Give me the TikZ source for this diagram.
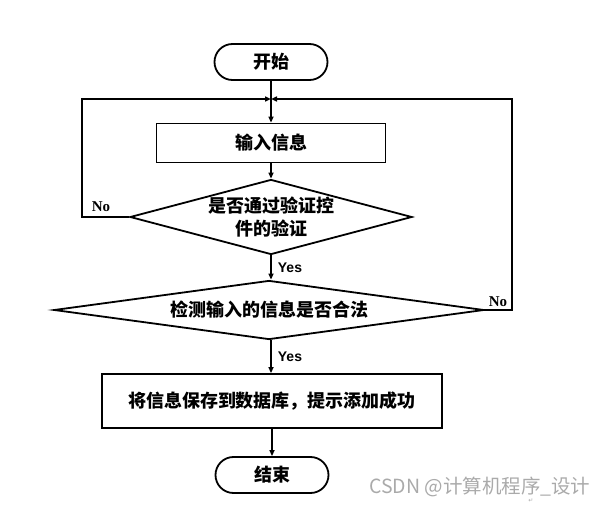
\documentclass[tikz,border=0pt]{standalone}
\usepackage{fontspec}
\setmainfont{Liberation Serif}
\setsansfont{Liberation Sans}
\newfontfamily\cjk{Noto Sans CJK SC}
\newfontfamily\symfont{DejaVu Sans}
\usetikzlibrary{arrows.meta,shapes.geometric,shapes.misc}
\definecolor{wmark}{RGB}{170,170,170}

\tikzset{
  flow/.style={line width=1.8pt, draw=black},
  arr/.style={flow, -{Triangle[length=6pt,width=5pt]}},
  term/.style={flow, rounded rectangle, minimum width=113pt, minimum height=36pt, inner sep=0pt, font=\cjk\bfseries\fontsize{18}{20}\selectfont},
  proc/.style={flow, rectangle, inner sep=0pt, font=\cjk\bfseries\fontsize{18}{20}\selectfont},
  decide/.style={flow, diamond, inner sep=0pt, align=center, font=\cjk\bfseries\fontsize{18}{23}\selectfont},
  yeslbl/.style={font=\sffamily\bfseries\fontsize{14}{16}\selectfont, anchor=west, inner sep=0pt},
  nolbl/.style={font=\rmfamily\bfseries\fontsize{15}{17}\selectfont, inner sep=0pt}
}

\begin{document}
\begin{tikzpicture}[x=1pt,y=-1pt]
  \useasboundingbox (0,0) rectangle (606,506);
  % boxes
  \node[term] (start) at (271,62) {开始};
  \coordinate (join) at (271,99);
  \node[proc, minimum width=229pt, minimum height=39pt] (in) at (271,143) {输入信息};
  \node[decide, minimum width=282pt, minimum height=75pt, aspect=3.76] (chk1) at (271,217) {是否通过验证控\\件的验证};
  \node[decide, minimum width=430pt, minimum height=59pt, aspect=7.3] (chk2) at (269,310) {检测输入的信息是否合法};
  \node[proc, minimum width=340pt, minimum height=54pt] (save) at (272,401) {将信息保存到数据库，提示添加成功};
  \node[term] (stop) at (272,475) {结束};
  % main flow
  \draw[arr] (start) -- (in);
  \draw[arr] (in) -- (chk1);
  \draw[arr] (chk1) -- node[yeslbl, xshift=6pt] (y1) {Yes} (chk1 |- chk2.north);
  \draw[arr] (chk1 |- chk2.south) -- node[yeslbl, xshift=6pt] (y2) {Yes} (chk1 |- save.north);
  \draw[arr] (save) -- (stop);
  % loops back
  \coordinate (lcorner) at (82,217);
  \coordinate (rcorner) at (512,310);
  \draw[arr] (chk1.west) -- (lcorner) |- (join);
  \draw[arr] (chk2.east) -- (rcorner) |- (join);
  \node[nolbl] (n1) at (101,207) {No};
  \node[nolbl] (n2) at (498,302) {No};
  % watermark
  \node[anchor=west, inner sep=0pt, text=wmark, font=\cjk\fontsize{19.5}{22}\selectfont] (wm) at (369,487) {CSDN @计算机程序\_设计};
  \node[inner sep=0pt, text=wmark, font=\symfont\fontsize{6}{7}\selectfont] (ret) at (531,501) {↵};
\end{tikzpicture}
\end{document}
